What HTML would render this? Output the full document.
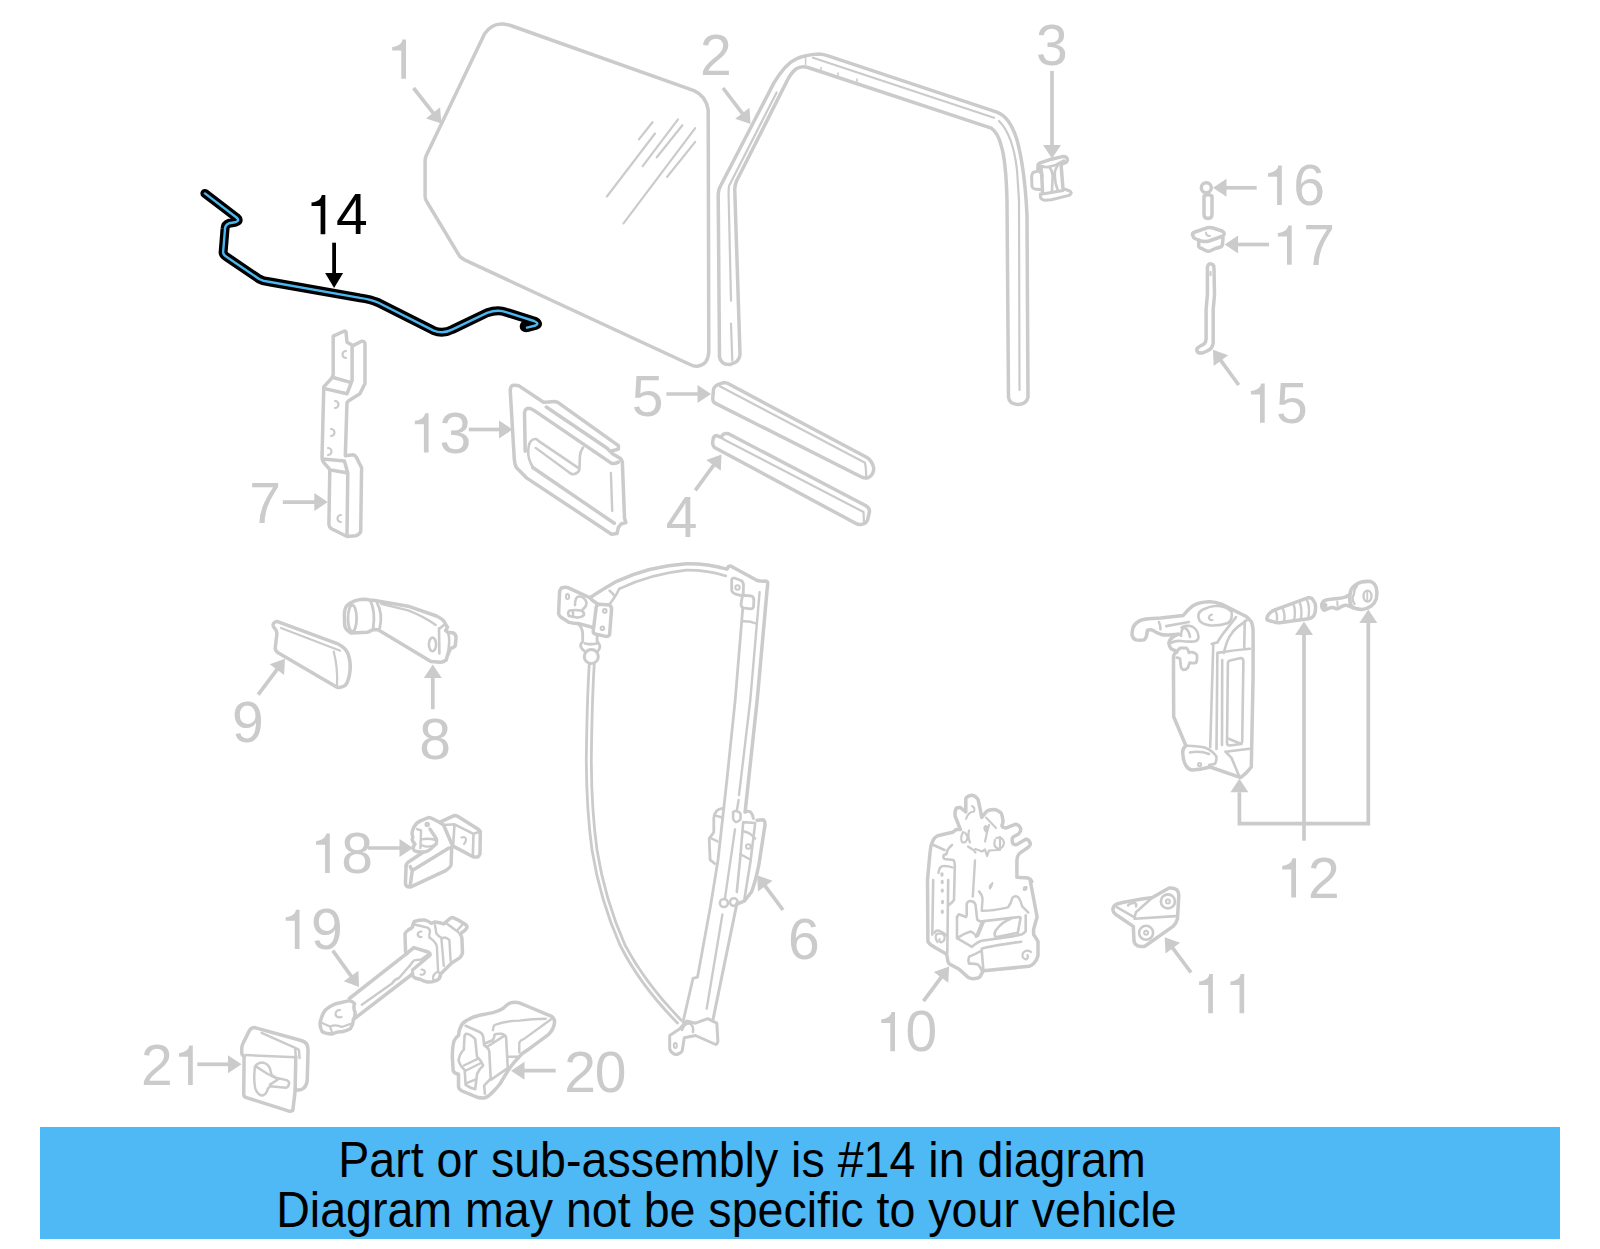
<!DOCTYPE html>
<html><head><meta charset="utf-8"><style>
html,body{margin:0;padding:0;background:#fff;width:1600px;height:1249px;overflow:hidden}
svg{position:absolute;left:0;top:0}
svg.d text{font-family:"Liberation Sans",sans-serif;font-size:57px}
.banner{position:absolute;left:40px;top:1127px;width:1520px;height:112px;background:#4eb9f5}
.t{position:absolute;font-family:"Liberation Sans",sans-serif;font-size:46.5px;color:#000;white-space:nowrap;line-height:1}
</style></head><body>
<svg class="d" width="1600" height="1249" viewBox="0 0 1600 1249">
<g fill="none" stroke="#cbcbcb" stroke-width="3.5" stroke-linejoin="round" stroke-linecap="round">
<g id="p1"><path d="M484.6,33.8 Q492,23 503,24 Q508,24.5 512,26 L694,90.7 Q706,96 708.2,110 L708.8,352 Q708,365 697.5,366.2 Q694,366.5 690,364.5 L466.2,260.7 Q462,258.5 459.7,256.4 L427,202 Q425,199 425.1,196 L425.1,161 Q425.1,158 426.5,155 Z"/>
<g stroke-width="2.2"><path d="M638.9,139.4 L652.5,122.2 M606.9,196.5 L655,133.5 M642.7,166.2 L678,119.4 M656.8,157.3 L682.4,125.3 M623.5,223.3 L695.2,128.1 M667,177 L695.2,141.9"/></g></g>
<g id="p2"><path d="M719.5,357 L718.2,195 Q718,190 720.5,186 L773.8,83.1 Q785,64 796.3,58.8 Q805,55 818.8,54.1 Q824,54.5 828.1,55.9 L996.9,112.2 Q1010,117 1017,140 Q1025,170 1027,216 L1028,397 Q1027,404 1018,404.5 Q1009,404 1008.5,397 L1007,200 Q1006,160 1001,145 Q998,133 991.3,128.1 L808,67.5 Q801,65.5 796,69 Q792,72 788,79 L736.5,181 Q734.5,186 734.8,191 L740,354 Q740,362 730,364.5 Q721,365 719.5,357 Z"/>
<path d="M776.6,92.5 L729,186 Q728.5,190 728.6,195 L731,300.7 M731,323.7 L732.3,360.8" stroke-width="2.2"/>
<path d="M813,57.8 L994,117.8 M999,121 Q1013,135 1017,170 L1019,200 L1019.5,390" stroke-width="2.2"/>
<path d="M805.6,56 L805.6,64.4 M821,67.5 L821,70.5 M838,73 L838,75.5 M857,79 L857,82.5" stroke-width="1.5"/></g>
<g id="p3"><path d="M1038.2,165 Q1038.3,163.5 1039.5,163.2 L1051.4,159.2 L1062.4,156.6 Q1065.5,156.5 1066.4,157.5 Q1067.5,158.5 1067.3,160.1 Q1067,161.7 1066,162.3 L1061.5,164.1"/>
<path d="M1041.3,165.9 Q1044,167.2 1047,167.2 Q1051,166.5 1055.8,165 L1063.7,160.6" stroke-width="2.8"/>
<path d="M1038.2,165 L1037.8,169.4 M1040.9,166.5 L1041.7,174.7 L1042.6,193.2 M1061.1,165 L1062.9,187.9"/>
<path d="M1038.2,171.1 L1033.5,172.2 Q1031.8,173.5 1031.6,176.4 L1032,186.5 Q1032.5,188.5 1034.5,188.9 L1040,189.6 M1040,172 Q1042.5,174 1042.2,176.4" stroke-width="3"/>
<path d="M1049.7,167.6 Q1053,172 1052.7,176.4 L1051.9,191.4 M1058.5,164.5 Q1054,170 1054.9,176.4 Q1055,184 1057.6,189.6" stroke-width="2.6"/>
<path d="M1040.4,194 Q1040,197.5 1040.9,198.4 Q1042.5,200 1044.8,200.2 L1051.4,199.8 L1069,195.4 Q1071.3,194.3 1071.2,192.7 Q1070.5,191.2 1068.6,190.5 L1063.3,188.8 M1042.6,194 L1062.9,190.5" stroke-width="3"/>
</g>
<g id="p5"><path d="M714.5,402.9 Q712.3,401 712.8,397 L713.6,388.9 Q715,385 720.6,383.6 L723,382.8 Q725.5,382.3 727.5,383.3 L867,457.5 Q872.5,461 873.8,468.5 Q873.5,475 868.5,477.5 Q865,478.5 862,477.2 Z"/>
<path d="M719.8,386.3 L865,462.8 M865,462.8 Q866.5,470 866,477.8" stroke-width="2.2"/></g>
<g id="p4"><path d="M714.5,447.5 Q712,445 712.8,441 L713.5,437.5 Q715,435 717.5,435.8 L721.3,437.5 L722.5,435 Q724.5,433 728.5,433.8 L865,505.3 Q870,508 869.4,512 L867.5,520 Q866,524 861,524.5 Q858,524.8 856,523.5 Z"/>
<path d="M721.3,437.5 L724.8,440 L863.5,512 M863.5,512 L864,523" stroke-width="2.2"/></g>
<g id="p6">
<path d="M590.3,597.5 Q605,588 617.2,581.1 Q650,566 686.4,563.7 Q708,563.5 725.9,568.9"/>
<path d="M619.2,588.8 Q650,574 686.4,570.1 Q708,570 725.9,575.9" stroke-width="2.6"/>
<path d="M609.6,590.7 Q615,595 614.4,597.5 L609.6,604.2 M619.2,588.8 Q617,594 614.4,597.5" stroke-width="2.6"/>
<path d="M561.5,587.9 Q564,587 567.3,587.4 L578.8,592.7 L589.4,597.5 L592.3,600.3 L598,604.2 M561.5,587.9 Q559.5,590 559.5,593 L558.6,613.8 Q559.5,616.5 561.5,617.6 L569.2,622.4 Q573,623.5 577.9,623.4 L592.3,627.2"/>
<path d="M599,604.2 L609.6,605.1 Q612,607 611.5,610 L609.6,634.9 Q608,636.8 605.7,636.4 L595.1,634 Q593,633 593.2,631.1 L596.1,608 Q596.5,604.5 599,604.2 Z"/>
<circle cx="604.8" cy="610.9" r="1.8" stroke-width="2"/><circle cx="602.4" cy="628.2" r="1.8" stroke-width="2"/>
<ellipse cx="567.5" cy="596.5" rx="1.6" ry="2.6" stroke-width="2"/>
<path d="M569,616 Q567,612.5 569.5,610.5 Q575,609.5 581,610.5 Q584.5,612 584,615 Q582,617.5 577,617.6 Z M573,610.7 L573,617" stroke-width="2.6"/>
<path d="M575,605.1 Q575,597 578.8,596.5 Q584,596 586.5,602.3 Q586.5,607 583,609" stroke-width="2.6"/>
<path d="M577.9,623.4 Q582.7,628 582.7,634 L582.7,641.7 Q580,644 580.7,646.5 Q582,650 584.6,651.3 M597.1,635.9 L597.1,641.7 Q600,644 600,646.5 Q599.5,650 597.5,651.3 M585,643.5 Q590,645 597,643.5" stroke-width="2.8"/>
<circle cx="591.3" cy="656.6" r="7" stroke-width="3"/>
<path d="M589.3,663.6 Q587,700 586.3,760 Q586.5,810 592,850 Q600,900 620,945 Q640,985 677.5,1023" stroke-width="2.8"/>
<path d="M594.3,663.6 Q592,700 591.3,760 Q591.5,810 597,850 Q605,900 625,945 Q645,983 681,1020" stroke-width="2.8"/>
<path d="M727.1,568.9 Q728,566 730.6,566 L757.2,580.5 Q761,581.5 765.4,581.1 Q768,581.5 767.7,584 L767.1,589.8 L757.2,700 L745.1,812"/>
<path d="M731.7,580 Q732,577.5 735,578.2 L741,580.5 Q743.5,582 743.5,585 L743.3,593.5 Q742.5,595.8 740,595.3 L735,593.8 Q731.8,592.5 731.7,590 Z" stroke-width="2.8"/>
<circle cx="737.5" cy="587.5" r="2.2" stroke-width="2"/>
<path d="M742,598 Q742,595.5 745,595.3 L751.5,596 Q754,597 753.8,600 L753.6,606.5 Q753,609.3 750,608.8 L743.5,607.8 Q741,607 741,604.5 Z" stroke-width="2.8"/>
<path d="M742.7,609 L735.2,700 L726.9,780 L718,860 L710.7,905 L697.5,977.2 L693,978.4 L683,1022" stroke-width="2.8"/>
<path d="M759.6,592.1 L750.3,700 L739,795 M738.6,800 L736.8,811 M735,829.4 L724.8,899.4 M722.4,914.5 L706.7,1008.6" stroke-width="2.4"/>
<path d="M743.3,621.2 Q750,621 756.1,623.5" stroke-width="2.4"/>
<path d="M736.8,904 L712.7,1021" stroke-width="3"/>
<path d="M669.7,1035.5 L679.8,1028.8 L686.6,1021 L695.5,1023.2 L707.8,1018.7 L716.8,1023.2 L717.9,1041.1 Q717,1044.5 715.7,1044.5 L695.5,1035.5 L684.3,1037.8 L682.1,1051.2 Q679,1054.6 675.3,1054.6 Q671,1053 669.7,1049 Z" stroke-width="3"/>
<path d="M682,1030 Q684,1023 690,1023.5 Q694,1026 693,1032" stroke-width="2.6"/>
<ellipse cx="675.3" cy="1045.6" rx="1.5" ry="2.5" stroke-width="2"/>




<path d="M723,808.3 Q718,809 716.6,811 Q714,814 713.8,818.4 L713.8,832.2 L709.2,838.6 L710.1,859.8 L714.7,863.5" stroke-width="2.8"/>
<path d="M715.6,815.6 L722.1,817.5 M710.1,837.7 L717.5,841.4" stroke-width="2.4"/>
<path d="M733.1,812 Q734,810.8 735.9,811 Q739.5,811.5 740.5,813.8 L740.5,819.3 Q738.5,822 735.9,822.1 Q733.5,821 733.1,818.4 Z" stroke-width="2.6"/>
<path d="M745.1,812 Q748,810.5 750.6,812 Q753,814.5 753.4,818.4" stroke-width="3"/>
<path d="M743.2,822.1 L755.2,823 M743.2,822.1 L740.5,855.2 L736.8,892 M755.2,823 L750.6,860.7 L744.2,900.3" stroke-width="2.6"/>
<path d="M757,820.2 L763.5,819.8 Q765.5,821.5 764.9,825.8 L758.9,864.4 Q756,880 751.5,892 L744.2,901.2 L736.8,904" stroke-width="3.5"/>
<path d="M743.2,831.3 Q749,832.5 751.5,835 L755.2,838.6 M740.5,854.3 L750.6,859.8" stroke-width="2.4"/>
<circle cx="748.3" cy="846.5" r="2.3" stroke-width="2"/>
<circle cx="723.9" cy="903" r="4" stroke-width="2.6"/>
<circle cx="733.8" cy="902.1" r="3.8" stroke-width="2.6"/>
</g>
<g id="p7"><path d="M333.2,336.2 L344.4,331 Q346,331 346.1,333 L347,342.2 L353,345.6 L361.6,341.3 Q365,341 365,344 L365,383.5 L359.9,393.8 L348.7,400.7 L347,402.4 L345.3,455.7 L353,454.8 Q355,455 356.4,457.4 L361.6,467.7 L360.7,531.4 Q359,535 355.6,535.7 L347,536.5 L331.5,528.8 Q329,527 328.9,524.5 L329.8,469.5 L323.8,462.6 Q322,460 322,457.4 L323.8,386.9 L331.5,378.3 Q333,376 333.2,374.9 Z"/>
<path d="M352.1,346.5 L352.1,380.9 M333.2,377.5 L351.3,382.6 L347,393.8 L324.6,388.6 M322.9,459.1 L344.4,460.9 L347.8,472.9 L332.4,470.3 M347.8,472.9 L347,535.7"/>
<path d="M346,351 A3.5,3.5 0 1 0 346,358 M335,401 A3.5,3.5 0 1 1 335,408 M331,429 A3.5,3.5 0 1 1 331,436 M328,448 A3.5,3.5 0 1 1 328,455 M341,515 A3.5,3.5 0 1 0 341,522" stroke-width="2.2"/></g>
<g id="p8"><path d="M347.2,605.4 Q353,600 363.4,599.3 Q368,599.5 369.9,600.2 L373.2,600.2 L408.1,606.2 L436.5,616 Q443,619 444.7,622.5 L447.5,627.4 L445.5,630.6 L447.9,632.2 L453.6,633 Q456.5,635 456,638.7 L455.2,646 Q453,648 450.4,648.5 L447.1,656.6 L446.3,659.9 Q444,662 440.6,662.3 L430.9,661.5 L378.1,629.8 L373.2,629.4 Q370,631.5 367.5,632.2 L351.2,633 Q346,631 344.7,625.7 L344.3,614.4 Q344.5,608 347.2,605.4 Z"/>
<ellipse cx="352.3" cy="618.4" rx="4.3" ry="13.2" stroke-width="2.8"/>
<path d="M370.7,601.4 Q375.5,612 373.2,628.2 M377.2,603 Q383,614 379.7,628.2" stroke-width="2.8"/>
<path d="M381.3,603.8 L408.1,610.3 Q423,616 435.7,624.9" stroke-width="2.4"/>
<ellipse cx="432.5" cy="644.4" rx="3.6" ry="6.8" stroke-width="2.6"/>
<path d="M439,628.2 L439.4,653.4 M439,629 L444,625 M447.9,632.2 Q451,640 447.1,656.6" stroke-width="2.6"/></g>
<g id="p9"><path d="M273.5,627 Q271.5,623 276.9,621.4 L338.6,644.2 Q346,648 348.4,654.7 Q351,663 350,671 Q349,681 345.1,685.6 Q341,688 337,687.2 L278.5,653.1 Q275.5,651 275.2,648.2 L276.9,633.6 Q276.5,629.5 273.5,627 Z"/>
<path d="M281,628 L340.2,650.7 M333.7,651.5 Q338,668 337,685.6" stroke-width="2.2"/></g>
<g id="p10">
<path d="M927.5,880 L927.9,941.7 Q930,945 934.1,946.9 L946.4,954 Q947,956 947.3,957.5 Q947.5,961.5 949.1,963.7 L958.8,969 L967.6,976.9 Q971,979 974.6,978.6 Q978,978.5 979.9,976.9 L983.4,970.7 L1029.2,966.3 Q1032,965.5 1033.6,963.7 Q1037,960 1038,955.7 L1038,941.7 Q1036,938 1033.6,934.6 L1033.6,929.3 L1037.1,917 L1030.1,880 L1031.9,881.6 Q1031,879 1028.3,878.1 L1016.9,877.2 L1016.9,860.5 Q1017,856 1019.5,853.4 L1028.3,847.2 Q1031,845 1030.1,842.8 Q1028.5,839 1025.7,839.3 L1016.9,844.6 Q1013.5,845 1012.5,842.8 Q1011.5,838.5 1013.4,836.7 L1018.6,834 Q1021.5,830.5 1020.4,827.9 Q1018,824 1015.1,824.3 L1006.3,827.9 Q1002,828 1001.9,825.2 Q1003.5,822 1002.8,819.1 Q1002,814.5 1001,812.9 Q997,809.5 994,809.4 Q989,809.5 986.9,811.1 L981.7,817.3 L979.9,807.6 L978.1,799.7 Q975.5,795.5 972,795.3 Q967,796 965.8,798.8 L965.8,812 L960.5,807.6 Q957,807.5 956.1,808.5 Q954.5,812 955.2,816.4 L960.5,829.6 L956.1,829.6 L952.6,832.3 L937.6,835.8 Q934.5,837.5 933.2,840.2 Q930.5,845 930.1,851.7 L927.5,880"/>
<path d="M933.2,880 L932.3,934.6 M948.2,880 L947.3,953.1 M933.5,845 L944.5,850 M952,845 Q947,849 946.5,854 L944,855 Q942.5,857.5 944.5,859 L953.5,860 Q955,862 954.8,866 L954,900 Q952,903 948.5,905" stroke-width="2.6"/>
<path d="M938.5,873 Q939,866 944,866 Q949,866 952.5,867.5" stroke-width="2.4"/>
<g fill="#cbcbcb" stroke="none"><ellipse cx="942" cy="874.5" rx="1.6" ry="2.2"/><ellipse cx="942.2" cy="882" rx="1.6" ry="2.2"/><ellipse cx="942.3" cy="890.6" rx="1.6" ry="2.2"/><ellipse cx="942.5" cy="902" rx="1.6" ry="2.2"/><ellipse cx="942.3" cy="911.7" rx="1.6" ry="2.2"/></g>
<path d="M937.5,942 Q934,937 937,934 Q942,932 944.5,936 Q945.5,941 941,942.5 Q939,941.5 939.5,939" stroke-width="2.2"/>
<path d="M934.5,933 Q936,929.5 940,931 Q944,932.5 946,935" stroke-width="2.4"/>
<path d="M975,860.5 L972.8,896.6 M979,891.4 Q983,896 982.5,900.3 L981.7,910.8 Q992,911 1008.1,907.3 Q1011,903.5 1012.5,897.6 Q1015.5,895 1018.6,897.6 Q1021,901 1022.2,906.4 L1028.3,912.6" stroke-width="2.4"/>
<path d="M957,917 L958.8,914.3 L966,917 M966.7,915.5 L966.7,903.8 Q968,900.5 971.1,901.1 Q974.5,901.5 975.5,904.7 L977.2,919.6 Q979,921.5 981.7,921.4 L1019.5,917 Q1021,917.5 1020.4,918.8 L1017.8,932.8 L995.7,937.2 Q993.5,934 996,930 Q1003,921 1012,918.5" stroke-width="2.6"/>
<path d="M957,917 L957,938.1 L972,946.9 Q974.5,944.5 976.4,943.4 Q979,941.5 981.7,940.8 L1012.5,936.4 L1021.3,934.6 Q1025,932.5 1025.7,931.1 L1025.7,915.2" stroke-width="2.6"/>
<path d="M957,938.1 Q965,933 971,931.5 Q975,933.5 976,937 L982,921.5 M978,936 L984,921.6" stroke-width="2.4"/>
<path d="M981.7,948.7 Q990,946 1021.3,941.7 M969.3,956.6 Q975,954.5 981.7,950.5 L983.4,969.8 M969.3,956.6 Q967.5,961 969.3,963.7 Q975,963.5 978.1,964.6 Q980.5,967 981.7,970.7" stroke-width="2.6"/>
<path d="M1031,952 Q1026,949 1023,953 Q1021,958 1026,959.5 Q1029,958 1027.5,955" stroke-width="2.2"/>
<path d="M990,888.5 Q989,885.5 992.5,883 Q991.5,887 990,888.5 Z M1024,890 Q1023,886.5 1026.5,887 Q1027,890 1024,890 Z" stroke-width="2"/>
<path d="M963,832 Q960,838 962,842 Q966,844 967.5,838 Q967,833 963,832 Z M969,830.5 Q967.5,836.5 970,842.5 M968,846.5 L972.5,849.5 M985,841.5 Q987,832 989,825 M986,831.5 Q983,828 985.5,826 Q988,827 986,831.5 Z M996.5,838 Q1003,836.5 1004,842.5 Q1003.5,849 997.5,848.5 Q993,846 995,840 M1000,837 L1000,850 M975.5,852.5 Q973,850 975.5,849 L982,851.5 L985,849.5 L987,856 L989,850.5 L998.5,850" stroke-width="2.2"/>
<path d="M966,819 Q968,812 974,811.5 Q975.5,807.5 972,806 M986,817.5 L996,828" stroke-width="2"/>
</g>
<g id="p11"><path d="M1112.8,909.7 Q1113,905.5 1116.7,904 Q1130,900.5 1152.5,897.5 Q1160,893 1169.2,888 Q1174,887.5 1176.9,889.9 Q1179,892.5 1178.8,895.6 L1177.5,918.7 Q1176.5,923 1173,926.4 L1144.8,946.2 Q1140,947 1137.2,945.6 Q1134.5,944 1134,941.1 L1133.3,926.4 L1115.4,914.2 Q1113,912 1112.8,909.7 Z"/>
<path d="M1116.7,907.2 L1134.6,917.4 M1135.9,912.3 L1152.5,897.5 M1134.6,918.7 L1175.6,916.1 M1134.6,917.4 L1135.9,912.3" stroke-width="2.6"/>
<path d="M1128,905.5 Q1130,902.5 1135,903 Q1137,904.5 1136,906.5" stroke-width="2.4"/>
<circle cx="1167.9" cy="901.4" r="7" stroke-width="2.6"/><circle cx="1167.9" cy="901.4" r="2" stroke-width="2"/>
<circle cx="1146.1" cy="932.8" r="7" stroke-width="2.6"/><circle cx="1146.1" cy="932.8" r="2" stroke-width="2"/></g>
<g id="p12">
<path d="M1173.5,676 L1173.7,716.7 L1185.9,745.7 Q1182,749 1182.8,753.3 Q1183,761 1185.9,765.4 Q1188,769.5 1192,770 Q1201,769.5 1210.2,767 L1240.7,777.6 Q1247,773 1251.3,767 L1253.1,676 L1253.1,630.1 Q1252.5,624.5 1251.5,622 Q1249,618.5 1245.8,616.3 L1221.4,604.1 Q1215,601.5 1209.2,601.7 Q1199,602 1193,605.7 Q1187.5,610 1183.2,615.5 L1160.5,617.9 L1148.3,618.7 Q1141,619.5 1137.7,622 Q1133.5,625 1132.9,628.5 Q1131.8,632 1132.1,635 Q1133,639 1136.1,639.9 Q1140,640.8 1144.2,639.9 Q1146.5,637.5 1146.7,635 L1147.5,630.1 Q1150,629.5 1152.4,630.1 Q1156,632.5 1160.5,634.2 Q1164,635.2 1168.6,635 L1178.4,634.2"/>
<path d="M1166.2,626.1 L1188.9,622 M1158.9,622 Q1160.5,625 1160.5,629.3" stroke-width="2.6"/>
<path d="M1178.4,634.2 Q1172,637 1170,640 Q1167.5,644 1171.1,648.8 Q1174,650.5 1176.7,651.2 Q1174,654 1173.5,656.1 L1173.5,676"/>
<path d="M1176.7,652.9 Q1178,648.5 1180.8,648 L1186.5,648 Q1188.5,650 1188.9,652.9 Q1190.5,651.8 1192.2,652.1 Q1196,653 1197,655.3 Q1197.5,660 1196.2,662.6 Q1193,663.5 1189.7,662.6 Q1188.5,665.5 1188.1,667.5 Q1186,670 1183.2,669.9 Q1181,668.5 1180.8,665.9 L1180,658.6 Q1178,657.8 1176.7,657.7" stroke-width="2.8"/>
<path d="M1170.5,643 Q1176,640.5 1181,641 Q1188,642 1194,641.5 Q1198.5,641 1198.5,637 Q1198,630 1193,627 Q1188,624.5 1184,627 Q1181,630 1181,636 M1185,628 Q1189,630 1190,637 M1181.5,627.5 Q1185,625 1188,626" stroke-width="2.6"/>
<path d="M1199.6,620.9 Q1196,613 1203,609.5 Q1210,606 1216.3,605.7 Q1226,606 1231.5,611.7 Q1233,619 1228,623 Q1220,626 1210.2,625.4 Q1203,624.5 1199.6,620.9 Z M1211.7,643.9 L1217.4,642.3" stroke-width="2.6"/>
<path d="M1212,614.5 Q1208.5,615.5 1209,618.5 Q1210,620.5 1212.5,620" stroke-width="2.2"/>
<path d="M1217.4,642.3 Q1220,638 1223.9,632.6 L1236,617.1 M1223.9,652.9 Q1226,643 1229.5,636.6 Q1233,630.5 1237.7,626.9 L1246.6,620.4 M1244.8,621 L1244.2,648 M1217.4,652.9 Q1235,650 1249.9,648.8 M1213.3,643.7 L1210.2,747.2 M1217.4,652.9 L1216.5,749 M1225.4,751.7 L1249.8,748.7 M1231.5,757.8 L1239.1,776.1 M1225.4,751.7 L1231.5,757.8" stroke-width="2.6"/>
<path d="M1222.2,660 L1222,745 M1227.9,663 Q1228,660.5 1231,660.2 L1241,658 Q1243.5,658.5 1243.4,661.5 L1242.2,741.5 Q1242,744 1239.5,744.2 L1229.5,745.5 Q1227,745.5 1227,742.5 Z M1228,738.5 L1241.5,744" stroke-width="2.6"/>
<path d="M1185.9,745.7 Q1195,745.5 1204.1,747.2 Q1212,750 1216.3,756.3 Q1217,761 1214.8,763.9 L1209,765 M1190,752.5 Q1200,750.5 1209,754" stroke-width="2.6"/>
<circle cx="1199.6" cy="764.5" r="1.6" stroke-width="2"/>
</g>
<g id="p12b">
<path d="M1267,618 Q1268,613 1274.1,610.2 L1308.4,597.7 Q1312,597.5 1313.1,600 Q1316,603.5 1315.5,607.8 Q1315.5,614 1313.1,616.4 Q1311,618.5 1308.4,618.8 L1279.5,622.7 Q1276,623 1274.1,621.9 L1267.8,620.3 Q1266.5,619.5 1267,618 Z"/>
<path d="M1275.6,611 Q1278,616 1276.5,621.8 M1282.7,608.5 Q1285.5,614.5 1284,622 M1293.6,604.5 Q1296,611 1294,620.8 M1299.8,602.5 Q1302.5,610 1300.8,620 M1306.9,599.5 Q1310.5,608 1308,619" stroke-width="2.4"/>
<path d="M1351.4,589.1 Q1355,584 1361.6,582 Q1366,581 1370.9,581.6 Q1375,583 1376.4,588.3 Q1377.5,593 1376.4,598.4 Q1375,603 1370.9,606.3 Q1366,609.5 1361.6,609.4 Q1355,609 1352.2,607 Q1349.5,603.5 1349.8,598.4 Q1350,592 1351.4,589.1 Z"/>
<ellipse cx="1367.5" cy="596.1" rx="4" ry="5.5" stroke-width="2.4"/><path d="M1367.3,591.5 L1367.3,600.5" stroke-width="1.8"/>
<path d="M1356.9,586 Q1353.5,590 1353.8,594.5 Q1351,598.5 1354.5,603.9" stroke-width="2.4"/>
<path d="M1349.8,594.5 Q1347.5,596 1345.9,596.9 Q1342,598 1338.1,598.4 L1330.3,599.2 Q1326,599.5 1324.1,600.8 Q1321.5,603 1321.7,605.5 Q1322,609 1324.1,610.2 Q1327,609.5 1330.3,607.8 Q1332,607.3 1334.2,607.8 Q1336,609.2 1338.1,608.6 Q1340.5,607 1342,606.3 Q1345,605 1347.5,605.5 L1353.8,607.8"/>
<path d="M1337.3,601.5 L1337.5,606" stroke-width="2"/>
<circle cx="1324.5" cy="605.5" r="2.2" fill="#cbcbcb" stroke-width="1.5"/>
</g>
<g id="p13"><path d="M510.2,390 Q511,385 513.6,385.2 Q517,385 519,385.9 L543.5,402.2 Q549,402 554.4,401.5 Q557,401.8 558.5,402.9 L618.4,445.7 L618.4,449.1 L610.2,451.2 L612.9,453.9 L619.7,458 Q622.4,460 622.4,463.4 L624.5,517.9 L625.9,522.6 L621.1,524 L618.4,527.4 L617,533.5 L611.6,534.2 L527.2,478.4 L516.3,467.5 Q514.5,463 514.3,459.4 Z"/>
<path d="M525.2,451.2 L524.5,413.1 Q525,408.5 528.6,408.3 Q531,408.5 534,410.4 L611.6,463.4 Q615,464 618.4,462.1"/>
<path d="M546.3,407 L607.5,448.5 Q609,450.5 610.2,451.2 M532.7,467.5 L614.3,523.3"/>
<path d="M533.5,468 Q528,460 528.2,452 Q528.3,445 530.5,441.5 Q533,438.5 536,439 Q537.5,439.5 538.4,440.9 L578.6,468.1 M583,447.5 Q580,452 579.9,456.2 L579.5,468.1 Q579.8,471 576.9,472.9 Q574.5,474.5 572.5,474.2 L570.3,473.3" stroke-width="2.6"/>
<path d="M535.7,447.9 L570.3,473.3 M610.9,473 L612.2,511" stroke-width="2.4"/></g>
<g id="p14"><path id="rod" d="M204.9,193.4 L236.5,217.5 Q240.5,221 235,222.3 L229,223.3 Q225.2,224.5 225,229 L223.1,252.5 Q223.5,255 226,256.5 L259.2,279 Q263,281.2 268.8,281.8 L360,297.9 Q371,299.5 378,302.5 L433.6,330.6 Q443,334.5 452.6,329.4 L487.1,312.8 Q497.8,309 506.1,312.2 L534,321 Q540,323.5 535.5,325.5 L527,327.6 Q523.5,328 524.5,325.5" stroke="#000" stroke-width="9"/>
<path d="M204.9,193.4 L236.5,217.5 Q240.5,221 235,222.3 L229,223.3 Q225.2,224.5 225,229 L223.1,252.5 Q223.5,255 226,256.5 L259.2,279 Q263,281.2 268.8,281.8 L360,297.9 Q371,299.5 378,302.5 L433.6,330.6 Q443,334.5 452.6,329.4 L487.1,312.8 Q497.8,309 506.1,312.2 L534,321 Q540,323.5 535.5,325.5 L527,327.6" stroke="#4db8f0" stroke-width="2.4"/></g>
<g id="p16"><circle cx="1206.3" cy="187.7" r="5"/><path d="M1204,196 Q1208,193.5 1212,196 L1212,214 Q1212,218.5 1208,218.5 Q1204,218.5 1204,214 Z"/></g>
<g id="p17"><path d="M1193,235.5 Q1191,233.5 1195,232 L1207,227.8 Q1210,227 1213,228 L1222,231 Q1226,233.5 1223,236 L1209,241 Q1205,242 1201,241 L1195,238.5 Q1193,237.5 1193,235.5 Z"/>
<path d="M1198.7,240 L1198.7,246 Q1199,248 1202,248.5 L1205.9,250.7 Q1208.5,251.8 1211,250.5 L1215.3,248.5 L1220.5,247 Q1222.5,246 1222.5,244 L1223,237.5"/>
<path d="M1206,232.5 Q1206,236 1210,236" stroke-width="2"/></g>
<g id="p15"><path d="M1207.4,268.2 Q1207.5,263.5 1210.7,263.8 Q1214,264 1214,268.2 L1214.5,294.6 L1213.2,309.6 L1213.2,343 Q1212.5,349 1207,351 L1202.6,353 Q1198,353.5 1197,351 Q1196,348.5 1199.5,346.5 L1204,344 Q1206,342.5 1206.1,339 L1206.1,309.6 L1207.4,294.6 Z"/>
<path d="M1210.5,271.7 L1210.5,275.2" stroke-width="2"/></g>
<g id="p18"><path d="M406.1,865.8 L405.4,883.5 Q406,887.5 410.9,886.9 L445.6,870.6 Q451,867 451.1,864.5 L451.7,846.8"/>
<path d="M406.1,865.8 Q406.5,862.5 410,861 L423.1,852.2 M410.2,866.5 L412.3,870.6 L449,848.1 M412.3,870.6 L410.2,885.6" />
<path d="M413.6,827.7 Q411,833 412.9,837.2 Q411,840.5 415,844 Q412,847.5 413.6,849.5 Q415,852 417,851.5 L423.1,852.2 Q427,852 430,849.5 L436.1,844 Q437.5,840 435.4,837.2 L430,829.1 M413.6,827.7 Q416,823 420.4,820.9 L428.6,817.5 Q431.5,817.8 434,819.5 L439.5,822.3 L443.6,825 L451.7,844"/>
<path d="M417,829.1 L421.1,830.4 L420.4,848.1 M421.8,839.3 Q428,838 436.1,840 M422.5,845.5 Q428,848 434.5,845" stroke-width="2.4"/>
<circle cx="427.2" cy="824.6" r="1.5" stroke-width="2.5"/>
<path d="M439.5,822.3 L454.5,815.4 Q456,815.5 457.2,816.1 L479,829.7 Q480.5,831 480.3,832.5 L480,853.6 Q479,856.5 477.6,857 L473.5,857 L453.1,846.1"/>
<path d="M443.6,825 L454.5,824.3 L473.5,833.8 L479.6,831.8 M473.5,833.8 L472.8,856.3 M454.5,824.3 L453.1,846.1" stroke-width="2.6"/>
<path d="M461.5,837.5 Q466,836 466,840 Q465.5,842.5 464,844" stroke-width="2.2"/></g>
<g id="p19"><path d="M349.4,998.5 L406.6,953.7 M353.5,1019.3 L411.8,974.5" />
<path d="M361.8,1004.7 L392,983.5 Q395,979 399,978 L406.3,969.5 Q410,966 412.5,962 Q414,960 415.6,960.1 L421.3,959.5 L428.1,954.5" stroke-width="2.4"/>
<path d="M406.6,953.7 L413.8,947.6 L428.1,952 Q430.5,953 430,955.1 L412.5,970"/>
<path d="M320.2,1022.4 Q322,1014 325.4,1010 Q330,1006 335.8,1003.7 L349.4,1000.6 Q353,1001.5 354.6,1003.7 Q353,1008 355,1012 Q355.5,1016 353.5,1019.3 Q353,1025 350.4,1028.7 Q346,1031 342.1,1031.8 Q337,1031 332.7,1033.9 Q326,1034 322.3,1031.8 Q319.5,1027 320.2,1022.4 Z"/>
<path d="M340,1010 Q335.5,1010 335.5,1014.5 Q337,1018.5 341.5,1017" stroke-width="2.2"/>
<path d="M321,1022.5 L330,1026.5 L332.5,1033.5 M330,1026.5 Q336,1024 342,1027 L350,1024" stroke-width="2.2"/>
<path d="M405.6,952 L405,933.9 Q406,931.5 408.1,930.1 Q411,928.5 412.5,927 Q413,923 414.4,921.4 Q420,919.8 425,920.1 Q428.5,921 431.3,923.3 L435,922 Q440,922.5 443.8,923.9 L448.8,919.5 Q451,917.5 453.1,917.6 Q460,920.5 465.6,924.5 Q467.5,926 466.9,927.6 Q466,929.5 464.4,930.8 L460,933.9 Q461.5,935.5 461.9,938.3 L462.5,952.6 Q462,955.5 460,957.6 L451.3,963.3 L440.6,973.9 Q440.5,976.5 439.4,978.3 Q437.5,980.5 435,980.8 Q431,982.5 427.5,982 Q424,981.5 420.6,979.5 L415.6,978.3 Q413,977 412.5,975.1 L412.5,972.6"/>
<path d="M414.4,924.5 L427.5,927.6 Q430,929 430,931.4 Q429,934.5 429.4,937.6 Q433,940 435,942.6 Q436.7,944.5 436.9,947 L438.1,971.4 M435,925.1 L436.3,933.3 Q438,936 441.3,937.6 L443.8,965.8 M442.5,938.3 Q444,937.3 445.6,937.6 Q448,938.5 449.4,940.1 L450.6,960.8 M446.3,923.3 L458.1,932 M457.5,930.1 L462.5,924.5" stroke-width="2.4"/>
<ellipse cx="436.5" cy="976.3" rx="3" ry="4.5" transform="rotate(30 436.5 976.3)" stroke-width="2.4"/>
<path d="M421.5,931.5 Q418,931.5 417.6,934.5 Q418.5,937.5 421.5,937 M421.5,969.5 Q425,969.5 424.8,972.5 Q424,975.5 420.5,974.5" stroke-width="2.2"/></g>
<g id="p20"><path d="M460.3,1027.6 Q462,1023 466.4,1020.6 Q472,1017 479.6,1015.3 L492.9,1012.6 Q499,1011 503.4,1008.2 Q507,1004 510.5,1002.9 Q515,1001.5 519.3,1002.9 L528.1,1006.5 L551,1016.1 Q555,1018.5 554.5,1022.5 Q554,1029 548.4,1034.6 L528.1,1049.6 Q522,1053 519.3,1056.7 Q512,1064 507.8,1070.8 L499.9,1084 Q496,1089 492.9,1091.9 Q489,1096.5 484.1,1098.1 Q480,1098 477,1097.2 L462,1091 Q458.5,1089 458.5,1086.6 L458.5,1074.3 Q454,1073 453.2,1070.8 L452.3,1056.7 Q452.5,1046 454.1,1040.8 Q456,1037 458.5,1035.5 Q459,1030 460.3,1027.6 Z"/>
<path d="M465.6,1025.8 L479.6,1032 Q482.5,1033.5 483.2,1036.4 L484.1,1045.2 Q488,1047 489.3,1051.4 L490.7,1078.7 L484.1,1085.7 L484.9,1093.7" stroke-width="2.6"/>
<path d="M466.4,1033.8 Q470,1034 475.2,1039.1 L477,1056.7 Q481,1060 483.2,1065.5 Q479,1069 477,1074.3 L475.2,1089.3 Q470,1088 465.6,1084.9 L464.7,1069.9 Q460,1066 458.5,1060.2 Q460,1053 463.8,1049.6 L464.5,1036.5 Q465,1034 466.4,1033.8 Z" stroke-width="2.6"/>
<path d="M463.8,1065.5 L478.8,1058.4 M465,1071 L480,1063.5 M466.4,1083.1 L475.2,1079.6" stroke-width="2.4"/>
<path d="M484.9,1043.5 L492.9,1040 Q494.5,1037 494.6,1034.6 Q496,1033.5 501.7,1033.8 Q505.5,1035 506.1,1037.3 L507.8,1068.1 L491.1,1079.6 M486.7,1047 L503.4,1036.4" stroke-width="2.6"/>
<path d="M492.9,1030.2 Q493,1026.5 494.6,1025 Q505,1021 519.3,1020.6 Q532,1019 545.7,1018.8 M519.3,1052.3 L519.3,1042.6 Q520.5,1040 523.7,1039.1 L551.9,1018.8 M508.7,1056.7 L518.4,1056.7" stroke-width="2.4"/></g>
<g id="p21"><path d="M244.1,1056.5 L243.7,1094.5 Q244,1097 246.4,1097.6 L289.8,1111.3 Q292,1111.5 292.8,1110.5 L295.1,1091.5 L295.8,1056.5"/>
<path d="M244.1,1056.5 Q241.5,1055 241.8,1051.9 Q241.5,1047 242.6,1044.3 L249.4,1030.6 Q251.5,1027.5 254.8,1027.6 L301.2,1040.5 Q306,1042 307.2,1045.1 Q308.2,1048 308,1052 L307.2,1080.8 Q306.5,1086 303.4,1088.4 Q301,1090 298.9,1090 L295.1,1090"/>
<path d="M245.6,1055 L295.8,1057.3 M261.6,1032.9 L295.8,1048.1 Q298.5,1049 298.9,1050.4 L299.6,1058 M295.1,1048.1 L295.8,1056.5" stroke-width="2.5"/>
<path d="M254.8,1067.1 Q257,1062.5 263.1,1062.6 Q268.5,1064 270,1068.7 L271.5,1074.8 L276.1,1077.8 L286.7,1080.1 Q290,1082 289,1083.9 Q288,1087.5 286,1087.7 L270,1086.2 Q267.5,1088 266.9,1091.5 Q265,1095.5 261.5,1095.5 Q257.5,1094.5 255.2,1088.4 Q253.8,1080 254.4,1073.2 Z M257,1067.1 L267.7,1074 L278.3,1079.3 L270,1084.6" stroke-width="2.5"/></g>

</g>
<line x1="413.5" y1="88.0" x2="433.7" y2="113.7" stroke="#cbcbcb" stroke-width="3.7"/><polygon points="441.4,123.5 426.0,118.4 440.1,107.3" fill="#cbcbcb"/><line x1="723.0" y1="88.0" x2="742.9" y2="114.1" stroke="#cbcbcb" stroke-width="3.7"/><polygon points="750.5,124.0 735.2,118.7 749.5,107.8" fill="#cbcbcb"/><line x1="1052.0" y1="71.0" x2="1052.0" y2="145.9" stroke="#cbcbcb" stroke-width="3.7"/><polygon points="1052.0,158.4 1043.0,144.9 1061.0,144.9" fill="#cbcbcb"/><line x1="1256.7" y1="187.8" x2="1225.5" y2="187.8" stroke="#cbcbcb" stroke-width="3.7"/><polygon points="1213.0,187.8 1226.5,178.8 1226.5,196.8" fill="#cbcbcb"/><line x1="1269.0" y1="244.5" x2="1237.1" y2="244.5" stroke="#cbcbcb" stroke-width="3.7"/><polygon points="1224.6,244.5 1238.1,235.5 1238.1,253.5" fill="#cbcbcb"/><line x1="1238.7" y1="385.0" x2="1220.4" y2="359.8" stroke="#cbcbcb" stroke-width="3.7"/><polygon points="1213.0,349.7 1228.2,355.3 1213.7,365.9" fill="#cbcbcb"/><line x1="666.4" y1="394.0" x2="698.5" y2="394.0" stroke="#cbcbcb" stroke-width="3.7"/><polygon points="711.0,394.0 697.5,403.0 697.5,385.0" fill="#cbcbcb"/><line x1="468.8" y1="429.5" x2="500.0" y2="429.5" stroke="#cbcbcb" stroke-width="3.7"/><polygon points="512.5,429.5 499.0,438.5 499.0,420.5" fill="#cbcbcb"/><line x1="282.8" y1="502.1" x2="315.3" y2="502.1" stroke="#cbcbcb" stroke-width="3.7"/><polygon points="327.8,502.1 314.3,511.1 314.3,493.1" fill="#cbcbcb"/><line x1="695.3" y1="490.4" x2="714.1" y2="464.6" stroke="#cbcbcb" stroke-width="3.7"/><polygon points="721.5,454.5 720.8,470.7 706.3,460.1" fill="#cbcbcb"/><line x1="258.2" y1="694.6" x2="277.5" y2="668.8" stroke="#cbcbcb" stroke-width="3.7"/><polygon points="285.0,658.8 284.1,675.0 269.7,664.2" fill="#cbcbcb"/><line x1="432.8" y1="709.2" x2="432.8" y2="677.0" stroke="#cbcbcb" stroke-width="3.7"/><polygon points="432.8,664.5 441.8,678.0 423.8,678.0" fill="#cbcbcb"/><line x1="783.0" y1="910.0" x2="764.7" y2="885.3" stroke="#cbcbcb" stroke-width="3.7"/><polygon points="757.2,875.3 772.5,880.8 758.0,891.5" fill="#cbcbcb"/><line x1="368.0" y1="848.0" x2="400.5" y2="848.0" stroke="#cbcbcb" stroke-width="3.7"/><polygon points="413.0,848.0 399.5,857.0 399.5,839.0" fill="#cbcbcb"/><line x1="332.8" y1="950.6" x2="351.7" y2="976.9" stroke="#cbcbcb" stroke-width="3.7"/><polygon points="359.0,987.0 343.8,981.3 358.4,970.8" fill="#cbcbcb"/><line x1="197.3" y1="1064.3" x2="229.0" y2="1064.3" stroke="#cbcbcb" stroke-width="3.7"/><polygon points="241.5,1064.3 228.0,1073.3 228.0,1055.3" fill="#cbcbcb"/><line x1="555.7" y1="1070.7" x2="523.5" y2="1070.7" stroke="#cbcbcb" stroke-width="3.7"/><polygon points="511.0,1070.7 524.5,1061.7 524.5,1079.7" fill="#cbcbcb"/><line x1="923.5" y1="1001.2" x2="941.7" y2="976.6" stroke="#cbcbcb" stroke-width="3.7"/><polygon points="949.1,966.6 948.3,982.8 933.8,972.1" fill="#cbcbcb"/><line x1="1191.0" y1="972.5" x2="1172.2" y2="947.3" stroke="#cbcbcb" stroke-width="3.7"/><polygon points="1164.7,937.3 1180.0,942.7 1165.6,953.5" fill="#cbcbcb"/><polyline points="1239.4,792.2 1239.4,823.6 1368.3,823.6 1368.3,623.1" fill="none" stroke="#cbcbcb" stroke-width="3.7"/><line x1="1304" y1="840.7" x2="1304" y2="635.0" stroke="#cbcbcb" stroke-width="3.7"/><polygon points="1239.4,778.7 1230.4,792.2 1248.4,792.2" fill="#cbcbcb"/><polygon points="1304,621.5 1295.0,635.0 1313.0,635.0" fill="#cbcbcb"/><polygon points="1368.3,609.6 1359.3,623.1 1377.3,623.1" fill="#cbcbcb"/><line x1="334.1" y1="242.7" x2="334.1" y2="274.1" stroke="#000" stroke-width="3.8"/><polygon points="334.1,288.1 325.1,273.1 343.1,273.1" fill="#000"/>
<path d="M401.3,78.8 L401.3,50.6 L392.2,50.6 L392.2,47.1 C397.8,46.5 401.8,44.0 402.5,39.5 L406.0,39.5 L406.0,78.8 Z" fill="#cbcbcb"/><text x="699.9" y="74.5" fill="#cbcbcb">2</text><text x="1036.1" y="64.5" fill="#cbcbcb">3</text><path d="M1277.1,204.9 L1277.1,176.7 L1268.0,176.7 L1268.0,173.2 C1273.6,172.6 1277.6,170.1 1278.3,165.6 L1281.8,165.6 L1281.8,204.9 Z" fill="#cbcbcb"/><text x="1293.2" y="204.9" fill="#cbcbcb">6</text><path d="M1287.0,264.8 L1287.0,236.6 L1277.9,236.6 L1277.9,233.1 C1283.5,232.5 1287.5,230.0 1288.2,225.5 L1291.7,225.5 L1291.7,264.8 Z" fill="#cbcbcb"/><text x="1303.3" y="264.8" fill="#cbcbcb">7</text><path d="M1260.0,422.8 L1260.0,394.6 L1250.9,394.6 L1250.9,391.1 C1256.5,390.5 1260.5,388.0 1261.2,383.5 L1264.7,383.5 L1264.7,422.8 Z" fill="#cbcbcb"/><text x="1276.1" y="422.8" fill="#cbcbcb">5</text><text x="631.8" y="416.1" fill="#cbcbcb">5</text><path d="M423.9,452.5 L423.9,424.3 L414.8,424.3 L414.8,420.8 C420.4,420.2 424.4,417.7 425.1,413.2 L428.6,413.2 L428.6,452.5 Z" fill="#cbcbcb"/><text x="439.6" y="452.5" fill="#cbcbcb">3</text><text x="249.3" y="522.9" fill="#cbcbcb">7</text><text x="665.8" y="537.4" fill="#cbcbcb">4</text><text x="232.1" y="742.3" fill="#cbcbcb">9</text><text x="419.3" y="759.4" fill="#cbcbcb">8</text><text x="788.0" y="959.2" fill="#cbcbcb">6</text><path d="M325.1,872.9 L325.1,844.7 L316.0,844.7 L316.0,841.2 C321.6,840.6 325.6,838.1 326.3,833.6 L329.8,833.6 L329.8,872.9 Z" fill="#cbcbcb"/><text x="341.2" y="872.9" fill="#cbcbcb">8</text><path d="M294.8,949.0 L294.8,920.8 L285.7,920.8 L285.7,917.3 C291.3,916.7 295.3,914.2 296.0,909.7 L299.5,909.7 L299.5,949.0 Z" fill="#cbcbcb"/><text x="311.1" y="949.0" fill="#cbcbcb">9</text><text x="141.1" y="1084.9" fill="#cbcbcb">2</text><path d="M188.1,1084.9 L188.1,1056.7 L179.0,1056.7 L179.0,1053.2 C184.6,1052.6 188.6,1050.1 189.3,1045.6 L192.8,1045.6 L192.8,1084.9 Z" fill="#cbcbcb"/><text x="564.3" y="1091.5" fill="#cbcbcb">2</text><text x="594.8" y="1091.5" fill="#cbcbcb">0</text><path d="M890.3,1051.2 L890.3,1023.0 L881.2,1023.0 L881.2,1019.5 C886.8,1018.9 890.8,1016.4 891.5,1011.9 L895.0,1011.9 L895.0,1051.2 Z" fill="#cbcbcb"/><text x="905.5" y="1051.2" fill="#cbcbcb">0</text><path d="M1208.2,1013.3 L1208.2,985.1 L1199.1,985.1 L1199.1,981.6 C1204.7,981.0 1208.7,978.5 1209.4,974.0 L1212.9,974.0 L1212.9,1013.3 Z" fill="#cbcbcb"/><path d="M1239.5,1013.3 L1239.5,985.1 L1230.4,985.1 L1230.4,981.6 C1236.0,981.0 1240.0,978.5 1240.7,974.0 L1244.2,974.0 L1244.2,1013.3 Z" fill="#cbcbcb"/><path d="M1291.3,897.6 L1291.3,869.4 L1282.2,869.4 L1282.2,865.9 C1287.8,865.3 1291.8,862.8 1292.5,858.3 L1296.0,858.3 L1296.0,897.6 Z" fill="#cbcbcb"/><text x="1307.9" y="897.6" fill="#cbcbcb">2</text><path d="M320.6,234.3 L320.6,206.1 L311.5,206.1 L311.5,202.6 C317.1,202.0 321.1,199.5 321.8,195.0 L325.3,195.0 L325.3,234.3 Z" fill="#000"/><text x="336.0" y="234.3" fill="#000">4</text>
</svg>
<div class="banner"></div>
<svg width="1600" height="1249" viewBox="0 0 1600 1249" style="position:absolute;left:0;top:0">
<g font-family="Liberation Sans, sans-serif" font-size="46.58" fill="#000">
<text transform="translate(338.28,1176.8) scale(1,1.055)">Part or sub-assembly is #14 in diagram</text>
<text transform="translate(276.18,1226.7) scale(1,1.055)">Diagram may not be specific to your vehicle</text>
</g></svg>
</body></html>
